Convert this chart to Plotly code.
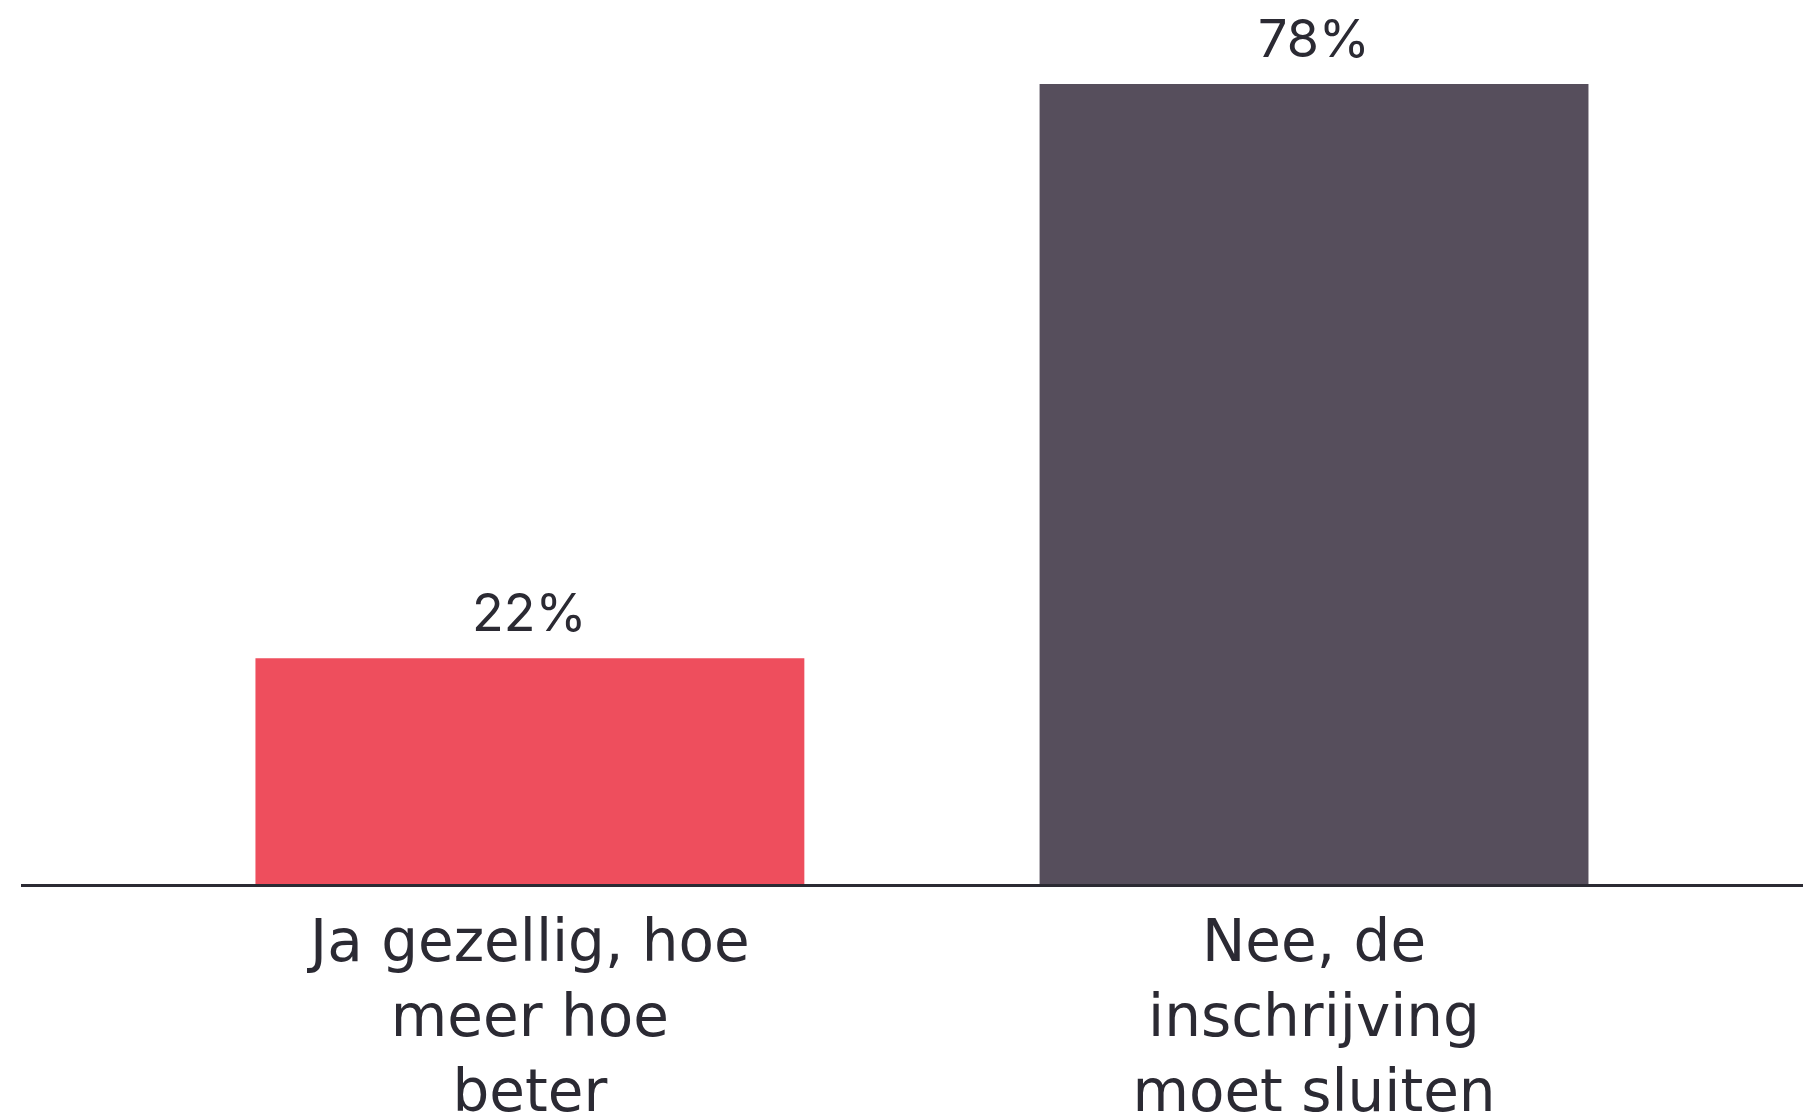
import plotly.graph_objects as go

# survey answers and shares (percent)
categories = ["Ja gezellig, hoe<br>meer hoe<br>beter", "Nee, de<br>inschrijving<br>moet sluiten"]
values = [22, 78]
value_labels = ["22%", "78%"]
bar_colors = ["#EE4E5D", "#564E5C"]

TEXT_COLOR = "#2B2A33"
TICK_FONT = "DejaVu Sans, Verdana, sans-serif"
VALUE_FONT = "Inter, Lato, sans-serif"

fig = go.Figure(
    go.Bar(
        x=categories,
        y=values,
        marker=dict(color=bar_colors, line=dict(width=0)),
        width=0.7,
        hoverinfo="skip",
    )
)

# value labels above the bars
for cat, val, lab in zip(categories, values, value_labels):
    fig.add_annotation(
        x=cat, y=val, text=lab, showarrow=False,
        yanchor="bottom", yshift=12,
        font=dict(family=VALUE_FONT, size=52, color=TEXT_COLOR),
    )

fig.update_layout(
    width=1811,
    height=1120,
    margin=dict(l=13, r=0, t=0, b=244),
    paper_bgcolor="white",
    plot_bgcolor="white",
    showlegend=False,
    font=dict(family=TICK_FONT, color=TEXT_COLOR),
)

fig.update_xaxes(
    range=[-0.649, 1.644],
    showgrid=False,
    showline=True,
    linecolor=TEXT_COLOR,
    linewidth=3,
    ticks="",
    tickfont=dict(family=TICK_FONT, size=58, color=TEXT_COLOR),
    ticklabelstandoff=4,
)
fig.update_yaxes(
    range=[0, 85.4],
    visible=False,
    showgrid=False,
    zeroline=False,
)

fig.write_html("out.html")
